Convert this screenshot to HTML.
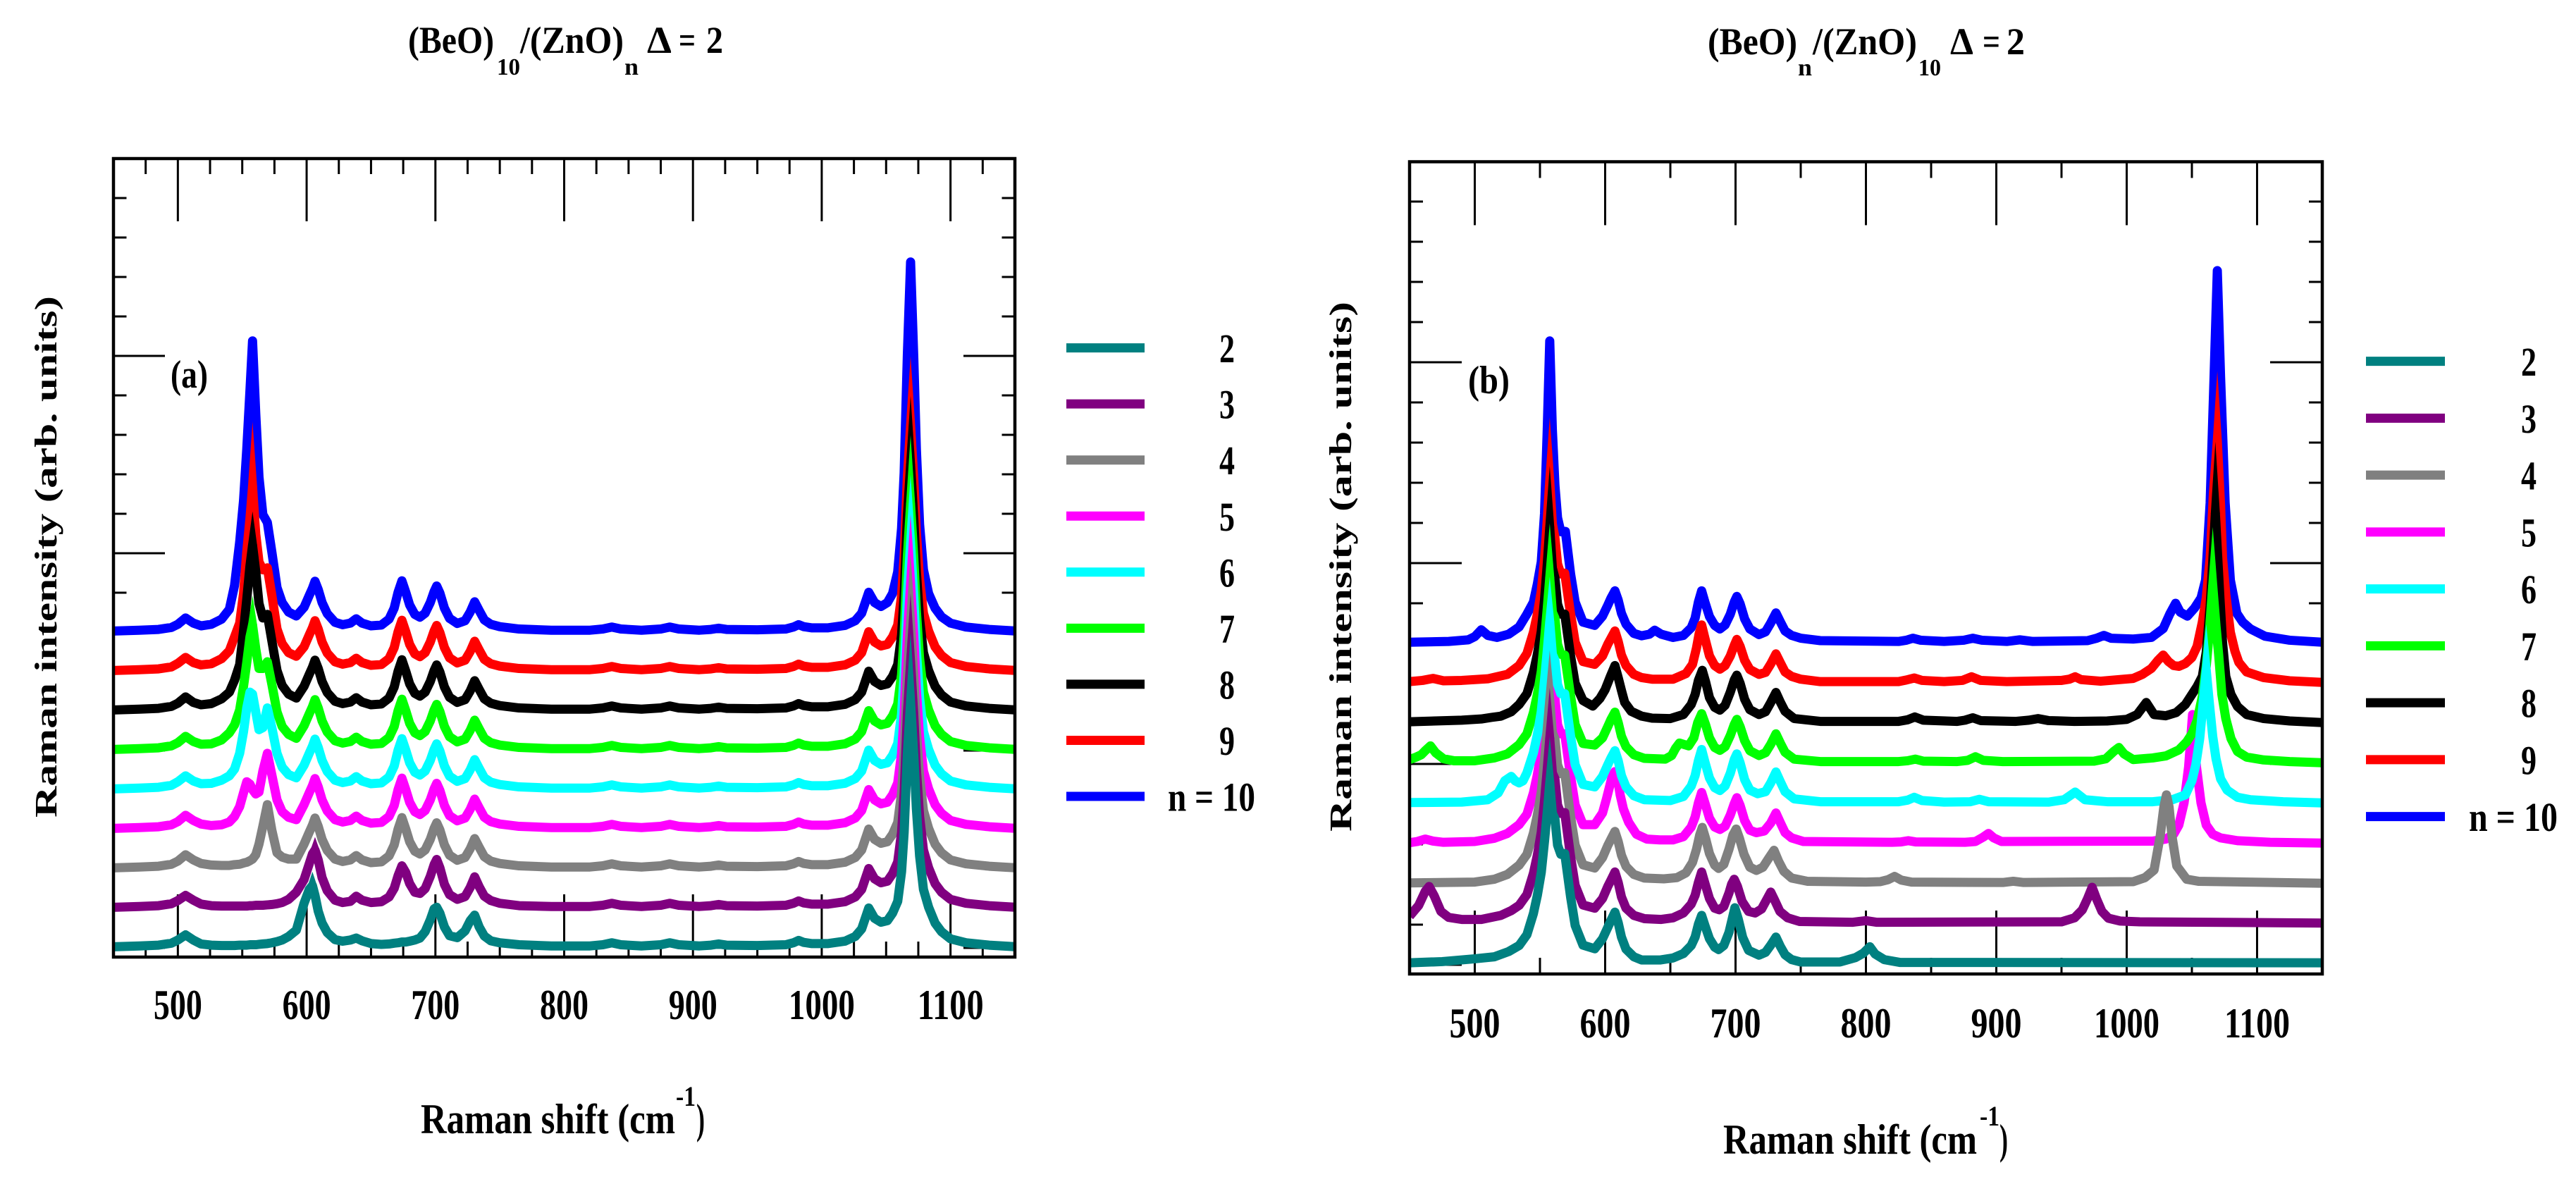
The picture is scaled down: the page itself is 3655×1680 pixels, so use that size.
<!DOCTYPE html>
<html>
<head>
<meta charset="utf-8">
<title>Raman spectra of (BeO)/(ZnO) superlattices</title>
<style>
html,body{margin:0;padding:0;background:#fff;}
svg{display:block;}
text{font-family:"Liberation Serif","DejaVu Serif",serif;font-weight:bold;fill:#000;}
</style>
</head>
<body>
<svg id="chart" xmlns="http://www.w3.org/2000/svg" width="3655" height="1680" viewBox="0 0 3655 1680">
<rect x="0" y="0" width="3655" height="1680" fill="#fff"/>
<defs>
<clipPath id="clipA"><rect x="161" y="225" width="1279" height="1133"/></clipPath>
<clipPath id="clipB"><rect x="2000" y="229.5" width="1295" height="1152.5"/></clipPath>
</defs>
<g id="panelA"></g>
<g id="panelB"></g>

<g>
<text x="579" y="75" font-size="54" textLength="122" lengthAdjust="spacingAndGlyphs">(BeO)</text>
<text x="705" y="106" font-size="34" textLength="33" lengthAdjust="spacingAndGlyphs">10</text>
<text x="738" y="75" font-size="54" textLength="147" lengthAdjust="spacingAndGlyphs">/(ZnO)</text>
<text x="886" y="106" font-size="34" textLength="20" lengthAdjust="spacingAndGlyphs">n</text>
<text x="918" y="75" font-size="54" textLength="35" lengthAdjust="spacingAndGlyphs">Δ</text>
<text x="963" y="75" font-size="54" textLength="24" lengthAdjust="spacingAndGlyphs">=</text>
<text x="1002" y="75" font-size="54" textLength="24" lengthAdjust="spacingAndGlyphs">2</text>
</g>
<g>
<text x="2423" y="77" font-size="54" textLength="127" lengthAdjust="spacingAndGlyphs">(BeO)</text>
<text x="2551" y="107" font-size="34" textLength="20" lengthAdjust="spacingAndGlyphs">n</text>
<text x="2572" y="77" font-size="54" textLength="148" lengthAdjust="spacingAndGlyphs">/(ZnO)</text>
<text x="2722" y="107" font-size="34" textLength="32" lengthAdjust="spacingAndGlyphs">10</text>
<text x="2767" y="77" font-size="54" textLength="33" lengthAdjust="spacingAndGlyphs">Δ</text>
<text x="2813" y="77" font-size="54" textLength="25" lengthAdjust="spacingAndGlyphs">=</text>
<text x="2847" y="77" font-size="54" textLength="26" lengthAdjust="spacingAndGlyphs">2</text>
</g>

<text x="242" y="550" font-size="56" textLength="53" lengthAdjust="spacingAndGlyphs">(a)</text>
<text x="2083" y="558" font-size="56" textLength="59" lengthAdjust="spacingAndGlyphs">(b)</text>

<text transform="translate(80 790) rotate(-90)" text-anchor="middle" font-size="44" textLength="740" lengthAdjust="spacingAndGlyphs">Raman intensity (arb. units)</text>
<text transform="translate(1917 804) rotate(-90)" text-anchor="middle" font-size="44" textLength="752" lengthAdjust="spacingAndGlyphs">Raman intensity (arb. units)</text>

<g>
<text x="597" y="1608" font-size="60" textLength="361" lengthAdjust="spacingAndGlyphs">Raman shift (cm</text>
<text x="959" y="1569" font-size="40" textLength="28" lengthAdjust="spacingAndGlyphs">-1</text>
<text x="988" y="1608" font-size="60" textLength="12" lengthAdjust="spacingAndGlyphs">)</text>
</g>
<g>
<text x="2445" y="1637" font-size="60" textLength="360" lengthAdjust="spacingAndGlyphs">Raman shift (cm</text>
<text x="2809" y="1597" font-size="40" textLength="28" lengthAdjust="spacingAndGlyphs">-1</text>
<text x="2837" y="1637" font-size="60" textLength="12" lengthAdjust="spacingAndGlyphs">)</text>
</g>
</svg>

<script>
// ---------- shared labels ----------
const legendLabels = ['2','3','4','5','6','7','8','9','n = 10'];
const seriesColors = ['#008080','#800080','#808080','#ff00ff','#00ffff','#00ff00','#000000','#ff0000','#0000ff'];
const xTickValues = [500,600,700,800,900,1000,1100];
const xTickLabels = ['500','600','700','800','900','1000','1100'];
const seriesOffsets = [0,1,2,3,4,5,6,7,8];
const baselineLift = 0.03;

// ---------- panel (a): (BeO)10/(ZnO)n — shared Raman-shift grid, net intensity per n ----------
const shiftAHead = [450,470,485,495,500,506,512,518,526,534,540,544,548,551,553.5,556,558,560.5,563,566,569.5,573,577,581,586,592];
const shiftABody = [598,602,604.5,606.5,609,612,616,622,628,634,638.5,643,650,658,664,668,671,674,677,680,684,688,692,696,699,701,703.5,707,711,717,723,727,730.5,734,738,743,750,765,790,820,830,837,844,860,875,882,889,905,914,920,926,950,972,978,982,986,992,1005,1018,1026,1031,1036.5,1041,1046];
const shiftATail = [1051,1055,1059,1062,1064,1066.5,1069,1071.5,1073.5,1076,1079,1083,1088,1093,1100,1112,1130,1150];

const a10Head = [0,.02,.04,.09,.17,.33,.2,.13,.17,.3,.55,1.15,2.25,3.3,4.6,6.1,7.35,5.5,3.9,2.95,2.75,2.0,1.1,.72,.48,.38];
const a9Head = [0,.02,.04,.09,.18,.33,.2,.14,.17,.3,.5,.85,1.2,1.95,3.0,3.85,4.65,3.45,2.75,2.55,2.6,1.9,1.05,.68,.45,.36];
const a8Head = [0,.02,.04,.09,.17,.33,.19,.13,.16,.28,.45,.75,1.15,2.0,2.8,3.65,4.17,3.5,2.7,2.33,2.42,1.75,1.0,.62,.4,.3];
const a7Head = [0,.02,.04,.09,.17,.33,.2,.13,.14,.24,.42,.62,1.0,1.6,2.2,2.85,3.15,2.55,2.05,2.05,2.22,1.65,.95,.58,.38,.28];
const a6Head = [0,.02,.04,.09,.18,.33,.2,.13,.14,.22,.33,.5,.9,1.45,2.05,2.45,2.4,1.95,1.5,1.55,2.05,1.55,.9,.55,.36,.28];
const a5Head = [0,.02,.04,.09,.17,.33,.2,.11,.07,.09,.16,.3,.55,.9,1.18,1.12,.98,.87,.92,1.45,1.9,1.35,.72,.42,.28,.22];
const a4Head = [0,.02,.04,.09,.17,.33,.2,.11,.07,.06,.06,.08,.09,.12,.14,.18,.22,.33,.6,1.05,1.6,.95,.38,.27,.22,.22];
const a3Head = [0,.02,.04,.09,.17,.3,.18,.08,.04,.03,.03,.03,.03,.03,.03,.04,.04,.05,.05,.05,.06,.07,.09,.12,.2,.38];
const a2Head = [0,.02,.04,.09,.17,.3,.17,.07,.04,.03,.03,.03,.04,.04,.04,.05,.05,.05,.06,.07,.08,.1,.13,.17,.26,.42];

const aBodyCommon = [.6,.9,1.08,1.26,1.05,.72,.44,.22,.16,.2,.31,.2,.13,.15,.3,.58,.98,1.27,.98,.66,.42,.35,.45,.72,1.0,1.14,.96,.58,.32,.19,.26,.48,.74,.52,.28,.17,.11,.05,.02,.02,.05,.1,.05,.02,.05,.1,.05,.02,.04,.07,.04,.03,.05,.1,.16,.11,.08,.08,.14,.26,.45,.98,.72,.62];
const a3Body = [.7,1.1,1.35,1.45,1.2,.75,.42,.18,.12,.15,.28,.18,.12,.14,.26,.48,.8,1.05,.88,.6,.38,.35,.47,.78,1.08,1.21,1.0,.58,.32,.2,.27,.5,.77,.52,.28,.17,.1,.04,.02,.02,.05,.1,.05,.02,.05,.1,.05,.02,.04,.07,.04,.03,.05,.1,.16,.11,.08,.08,.14,.26,.45,.98,.72,.62];
const a2Body = [1.1,1.45,1.55,1.3,.9,.6,.36,.18,.14,.17,.22,.15,.08,.06,.07,.09,.1,.12,.12,.14,.17,.22,.38,.68,.96,1.0,.85,.5,.28,.23,.4,.66,.8,.5,.27,.15,.1,.05,.02,.02,.05,.1,.05,.02,.05,.1,.05,.02,.04,.07,.04,.03,.05,.1,.16,.11,.08,.08,.14,.26,.45,.98,.72,.62];
const aTailNarrow = [.66,.85,1.15,1.9,2.9,4.9,6.2,4.85,3.5,2.3,1.45,1.0,.6,.38,.2,.1,.04,0];
const aTailBlue = [.72,.95,1.5,2.6,4.0,7.0,9.35,6.9,4.6,2.7,1.55,.95,.58,.36,.2,.1,.04,0];

// needle tips above rounded apexes: series index order n = 2 ... 10, null means no needle
const aMainTips = [null,null,null,null,null,3.9,5.03,6.3,null];
const aRightTips = [7.96,7.96,7.96,7.96,7.96,7.96,7.96,7.96,null];
const aLowPeakShift = [604.5,606.5,null,null,null,null,null,null,null];
const aLowPeakTips = [1.9,1.78,null,null,null,null,null,null,null];

// ---------- panel (b): (BeO)n/(ZnO)10 — [Raman shift, net intensity] read per n ----------
const b2Points = [[450,.02],[475,.05],[500,.12],[515,.17],[526,.3],[534,.45],[540,.72],[545,1.25],[548,1.7],[551,2.27],[553.5,3.05],[555.5,3.75],[557.5,4.5],[559.5,3.75],[561.5,3.6],[563.5,2.95],[566,2.72],[569,2.74],[573.5,1.66],[577,.95],[583,.46],[592,.37],[598,.62],[602,.9],[604.5,1.08],[607.5,1.28],[610,1.02],[612.5,.66],[616,.36],[622,.17],[628,.09],[642,.09],[652,.14],[660,.25],[666,.45],[669,.66],[671.5,.98],[674,1.2],[676.5,.95],[680,.62],[684,.41],[687,.35],[691,.45],[695,.78],[697.5,1.12],[699.5,1.39],[702,1.12],[705.5,.65],[710,.33],[718,.21],[723,.28],[727,.46],[731,.66],[734.5,.42],[738,.22],[743,.1],[750,.04],[780,.04],[792,.15],[798,.26],[803,.42],[807,.24],[814,.1],[826,.03],[1150,.02]];
const b3Points = [[450,.18],[457,.45],[462,.8],[465,.92],[469,.68],[474,.3],[480,.15],[490,.1],[505,.1],[520,.2],[528,.32],[534,.45],[540,.72],[545,1.25],[548,1.7],[551,2.27],[553.5,3.05],[555.5,3.8],[557.5,4.6],[559.5,3.75],[561.5,3.6],[563.5,2.95],[566,2.74],[569,2.76],[573.5,1.66],[577,.95],[583,.46],[592,.38],[598,.62],[602,.92],[604.5,1.08],[607.5,1.28],[610,1.02],[612.5,.66],[616,.38],[622,.2],[630,.12],[643,.1],[652,.14],[660,.26],[666,.48],[669,.7],[671.5,1.02],[674,1.28],[676.5,1.0],[680,.62],[684,.38],[687.5,.34],[691,.42],[695,.76],[697,.98],[699,1.1],[701.5,.92],[705,.55],[710,.3],[715,.26],[720,.36],[724,.6],[727,.78],[730,.58],[734,.3],[740,.14],[749,.05],[790,.03],[800,.07],[808,.03],[950,.04],[960,.14],[966,.34],[970,.62],[973.5,.9],[977,.6],[981,.3],[986,.13],[995,.06],[1010,.04],[1150,.01]];
const b4Points = [[450,.01],[500,.03],[515,.1],[525,.22],[534,.45],[540,.72],[545,1.25],[548,1.7],[551,2.27],[553.5,3.05],[555.5,3.8],[557.5,4.55],[559.5,3.75],[561.5,3.6],[563.5,2.95],[566,2.73],[569,2.75],[573.5,1.66],[577,.95],[583,.46],[592,.38],[598,.64],[602,.94],[604.5,1.1],[607.5,1.29],[610,1.04],[612.5,.7],[616,.42],[622,.22],[630,.13],[645,.11],[655,.14],[662,.26],[667,.52],[670,.84],[672.5,1.2],[674.5,1.39],[677,1.12],[680,.74],[684,.45],[687,.37],[691,.47],[695,.85],[698,1.2],[700.5,1.35],[703,1.12],[706.5,.72],[711,.4],[716,.32],[721,.4],[725,.6],[729.5,.82],[733,.55],[737,.3],[743,.13],[755,.05],[800,.03],[811,.04],[817,.09],[822,.17],[827,.08],[835,.03],[905,.02],[913,.05],[921,.02],[1005,.04],[1014,.14],[1021,.33],[1025.7,1.18],[1028.5,1.9],[1030.5,2.2],[1032.5,1.9],[1034.7,1.18],[1038.4,.43],[1046,.1],[1055,.05],[1150,0]];
const b5Points = [[450,.01],[456,.04],[462,.1],[468,.05],[476,.02],[500,.04],[515,.12],[525,.24],[534,.46],[540,.72],[545,1.25],[548,1.7],[551,2.27],[553.5,3.05],[555.5,3.85],[557.5,4.7],[559.5,3.8],[561.5,3.6],[563.5,2.95],[566,2.72],[569,2.72],[573.5,1.66],[577,.95],[583,.46],[592,.46],[598,.75],[601,1.1],[603.5,1.42],[605.5,1.68],[607.5,1.78],[609.5,1.6],[611.5,1.2],[614,.85],[618,.52],[624,.22],[632,.1],[642,.08],[652,.08],[660,.16],[666,.4],[669,.65],[671.5,1.0],[674,1.26],[676.5,1.0],[680,.62],[684,.4],[688,.34],[692,.42],[696,.7],[699,.98],[701,1.13],[703.5,.94],[707,.56],[711,.32],[716,.26],[722,.3],[727,.5],[731,.75],[734.5,.5],[738,.26],[743,.13],[752,.04],[820,.02],[827,.03],[832.5,.06],[838,.03],[876,.02],[884,.04],[890,.15],[894,.24],[898,.13],[904,.04],[1020,.05],[1030,.1],[1036,.22],[1040,.45],[1044,1.0],[1047.5,1.9],[1050.5,3.2],[1053.5,1.9],[1057,1.0],[1061,.45],[1066,.22],[1072,.13],[1085,.06],[1110,.02],[1150,0]];
const b6Points = [[450,.01],[490,.02],[510,.08],[518,.25],[523,.55],[528,.66],[531,.55],[534,.5],[537,.55],[540,.75],[545,1.25],[548,1.7],[551,2.27],[553.5,3.05],[555.5,3.75],[557.5,4.5],[559.5,3.7],[561.5,3.55],[563.5,2.95],[566,2.72],[569,2.72],[573.5,1.66],[577,.95],[583,.46],[592,.4],[598,.66],[602,.95],[604.5,1.12],[607.5,1.3],[610,1.05],[612.5,.68],[616,.4],[622,.18],[630,.08],[650,.06],[660,.16],[666,.42],[669,.68],[671.5,1.05],[674,1.33],[676.5,1.02],[680,.62],[684,.38],[688,.31],[692,.42],[696,.74],[699,1.08],[701,1.22],[703.5,1.0],[707,.58],[711,.32],[717,.23],[723,.28],[727,.5],[731,.77],[734.5,.52],[738,.28],[745,.1],[765,.03],[825,.03],[832,.07],[837,.14],[843,.06],[860,.02],[880,.03],[887,.09],[894,.03],[940,.02],[952,.08],[960.5,.27],[968,.08],[985,.03],[1020,.03],[1035,.08],[1045,.2],[1050,.55],[1053,.95],[1056,1.6],[1058.5,2.45],[1061,3.3],[1063.5,2.45],[1066,1.65],[1068.5,1.1],[1072,.6],[1077,.32],[1085,.14],[1095,.08],[1120,.03],[1150,0]];
const b7Points = [[450,.08],[455,.14],[459,.2],[462,.3],[466,.42],[470,.25],[476,.1],[484,.05],[500,.05],[515,.12],[525,.22],[534,.45],[540,.72],[545,1.25],[548,1.7],[551,2.27],[553.5,3.05],[555.5,3.8],[557.5,4.6],[559.5,3.75],[561.5,3.6],[563.5,2.95],[566,2.7],[569,2.68],[573.5,1.66],[577,.95],[583,.48],[592,.44],[598,.62],[602,.9],[604.5,1.08],[607.5,1.26],[610,1.0],[612.5,.66],[616,.4],[622,.2],[630,.11],[646,.09],[651,.18],[654,.36],[657,.49],[660,.46],[664,.42],[668,.62],[671,1.0],[674,1.22],[677,.95],[680,.62],[684,.38],[688,.31],[692,.4],[696,.68],[699,.95],[701,1.08],[703.5,.9],[707,.55],[711,.3],[718,.18],[723,.25],[727,.46],[731,.72],[734.5,.48],[738,.26],[745,.09],[765,.03],[825,.03],[832,.05],[838,.09],[844,.04],[870,.03],[878,.06],[884,.15],[890,.06],[905,.03],[975,.04],[984,.1],[990,.28],[994,.38],[998,.22],[1005,.08],[1020,.12],[1030,.17],[1040,.32],[1046,.52],[1050,.72],[1054,1.05],[1058,1.65],[1061,2.4],[1063.5,3.3],[1066,4.4],[1068.5,3.4],[1070.5,2.7],[1073,1.7],[1076,1.1],[1080,.6],[1085,.28],[1092,.14],[1105,.07],[1125,.03],[1150,0]];
const b8Points = [[450,.02],[490,.06],[505,.09],[513,.13],[520,.16],[528,.27],[534,.45],[540,.72],[545,1.25],[548,1.7],[551,2.27],[553.5,3.05],[555.5,3.9],[557.5,4.85],[559.5,3.85],[561.5,3.6],[563.5,2.95],[566,2.7],[569,2.7],[573.5,1.66],[577,.98],[583,.55],[590.5,.41],[596,.6],[600,.82],[604,1.15],[607.5,1.42],[610,1.12],[612.5,.8],[615,.5],[620,.28],[628,.16],[636,.11],[650,.1],[660,.2],[666,.45],[669,.7],[671.5,1.05],[674.5,1.3],[677,1.02],[680,.62],[684,.38],[688,.31],[692,.43],[696,.76],[699,1.06],[701,1.18],[703.5,.98],[707,.58],[711,.32],[718,.2],[723,.27],[727,.5],[731,.75],[734.5,.5],[738,.28],[745,.1],[765,.03],[825,.03],[832,.07],[837.5,.14],[844,.06],[870,.03],[876,.06],[882,.12],[888,.05],[915,.03],[925,.06],[932,.1],[940,.05],[960,.03],[985,.04],[1000,.08],[1008,.2],[1015,.5],[1021,.2],[1030,.17],[1038,.25],[1045,.45],[1050,.7],[1054,.9],[1058,1.15],[1061,1.75],[1064,2.9],[1066,4.0],[1068,5.2],[1070,4.0],[1071.5,3.1],[1073.5,2.0],[1076,1.15],[1080,.7],[1085,.4],[1092,.2],[1105,.1],[1125,.04],[1150,0]];
const b9Points = [[450,.02],[460,.05],[468,.1],[476,.04],[490,.05],[510,.09],[525,.2],[534,.42],[540,.72],[545,1.25],[548,1.7],[551,2.27],[553.5,3.05],[555.5,4.0],[557.5,5.0],[559.5,3.95],[561.5,3.6],[563.5,2.95],[566,2.7],[569,2.72],[573.5,1.7],[577,1.0],[583,.52],[592,.45],[598,.66],[602,.95],[604.5,1.1],[607.5,1.28],[610,1.02],[612.5,.68],[616,.42],[622,.2],[628,.12],[636,.08],[652,.08],[662,.22],[667,.45],[670,.85],[672,1.2],[674,1.43],[676.5,1.1],[680,.66],[684,.42],[688,.33],[692,.42],[696,.66],[699,.92],[701,1.07],[703.5,.9],[707,.55],[711,.32],[718,.2],[723,.25],[727,.46],[731,.71],[734.5,.48],[738,.26],[743,.15],[750,.08],[765,.02],[825,.02],[831,.06],[837,.11],[843,.05],[860,.02],[874,.05],[881,.14],[888,.05],[908,.02],[950,.05],[956,.08],[960.5,.14],[965,.07],[980,.03],[1005,.1],[1012,.2],[1019,.35],[1024,.55],[1028,.68],[1032,.52],[1036,.42],[1040,.4],[1045,.47],[1050,.62],[1054,.9],[1058,1.5],[1061,2.1],[1064,3.1],[1066.5,4.7],[1069.5,6.0],[1072,4.4],[1073.5,3.1],[1076,2.2],[1079.5,1.25],[1083,.78],[1086,.5],[1092,.26],[1105,.12],[1125,.04],[1150,0]];
const b10Points = [[450,0],[480,.02],[495,.06],[500,.14],[505,.31],[510,.17],[517,.12],[526,.2],[534,.38],[540,.7],[545,1.0],[548,1.45],[551,2.0],[553.5,3.2],[555.5,5.2],[557.5,7.5],[559.5,5.3],[561.5,3.9],[563.5,3.1],[566,2.75],[569.5,2.76],[573.5,1.7],[577,1.0],[583,.5],[592,.42],[598,.65],[602,.92],[604.5,1.1],[607.5,1.28],[610,1.05],[612.5,.72],[616,.45],[622,.22],[628,.16],[634,.2],[638,.3],[643,.2],[652,.12],[660,.17],[666,.36],[669,.6],[671.5,1.0],[674,1.28],[676.5,1.0],[680,.64],[684,.42],[688,.33],[692,.43],[696,.7],[699,1.0],[701,1.14],[703.5,.96],[707,.58],[711,.33],[718,.19],[723,.26],[727,.48],[731,.73],[734.5,.5],[738,.28],[743,.17],[750,.1],[765,.04],[825,.02],[831,.05],[836,.1],[842,.05],[860,.02],[875,.05],[882,.1],[889,.05],[908,.02],[918,.06],[928,.02],[970,.04],[977,.1],[982.5,.17],[988,.1],[1005,.08],[1019,.12],[1028,.34],[1033,.7],[1037.5,.97],[1041,.75],[1046.5,.65],[1052,.85],[1057,1.1],[1060.5,1.55],[1064,3.47],[1067,6.6],[1069.5,9.25],[1072,6.6],[1075.5,3.47],[1079.5,1.55],[1084.5,.72],[1089,.5],[1095,.33],[1106,.15],[1125,.05],[1150,0]];

// needle tips above rounded apexes in panel (b)
const bMainTips = [5.64,5.87,5.8,6.12,5.63,5.96,6.39,6.6,null];
const bRightShift = [null,null,null,null,1061,1066,1068,1069.5,null];
const bRightTips = [null,null,null,null,4.45,5.87,6.99,7.75,null];

// ---------- axis functions ----------
function xA(v){ return 161 + (v - 450) * 1279 / 700; }
function yA(v){ return 1345 - 56 * v; }
function xB(v){ return 2000 + (v - 450) * 1295 / 700; }
function yB(v){ return 1369 - 57 * v; }

const NS = 'http://www.w3.org/2000/svg';
const STROKE = 13;

function line(parent, x1, y1, x2, y2, w, name){
  const el = document.createElementNS(NS, 'line');
  el.setAttribute('x1', x1);
  el.setAttribute('y1', y1);
  el.setAttribute('x2', x2);
  el.setAttribute('y2', y2);
  el.setAttribute('stroke', '#000');
  el.setAttribute('stroke-width', w);
  
  
  parent.appendChild(el);
  return el;
}

function drawTicks(group, X, Y, left, right, top, bottom, xStep, xMajorLen, xMinorLen, yMajorLen, yMinorLen){
  for (let v = 450; v <= 1150; v += xStep) {
    if (v === 450 || v === 1150) continue;
    const major = v % 100 === 0;
    const len = major ? xMajorLen : xMinorLen;
    line(group, X(v), top, X(v), top + len, 3, major ? 'x-major-tick-top' : 'x-minor-tick-top');
    line(group, X(v), bottom, X(v), bottom - len, 3, major ? 'x-major-tick-bottom' : 'x-minor-tick-bottom');
  }
  for (let v = 0; v < 20; v += 1) {
    const major = v % 5 === 0;
    const len = major ? yMajorLen : yMinorLen;
    line(group, left, Y(v), left + len, Y(v), 3, major ? 'y-major-tick-left' : 'y-minor-tick-left');
    line(group, right, Y(v), right - len, Y(v), 3, major ? 'y-major-tick-right' : 'y-minor-tick-right');
  }
}

function drawSeries(group, pointsText, color, clipId, name){
  const el = document.createElementNS(NS, 'polyline');
  el.setAttribute('points', pointsText);
  el.setAttribute('fill', 'none');
  el.setAttribute('stroke', color);
  el.setAttribute('stroke-width', STROKE);
  el.setAttribute('stroke-linejoin', 'round');
  el.setAttribute('clip-path', 'url(#' + clipId + ')');
  
  
  group.appendChild(el);
}

function drawNeedle(group, X, Y, shift, apex, tip, color, name){
  const el = document.createElementNS(NS, 'polygon');
  const half = STROKE / 2;
  const pts = (X(shift) - half).toFixed(2) + ',' + Y(apex).toFixed(2) + ' ' +
              (X(shift) + half).toFixed(2) + ',' + Y(apex).toFixed(2) + ' ' +
              X(shift).toFixed(2) + ',' + Y(tip).toFixed(2);
  el.setAttribute('points', pts);
  el.setAttribute('fill', color);
  
  
  group.appendChild(el);
}

function drawFrame(group, left, top, right, bottom, name){
  const el = document.createElementNS(NS, 'rect');
  el.setAttribute('x', left);
  el.setAttribute('y', top);
  el.setAttribute('width', right - left);
  el.setAttribute('height', bottom - top);
  el.setAttribute('fill', 'none');
  el.setAttribute('stroke', '#000');
  el.setAttribute('stroke-width', 4.5);
  
  
  group.appendChild(el);
}

function drawXLabels(group, X, baseline, len3, len4, name){
  xTickValues.forEach(function(v, i){
    const t = document.createElementNS(NS, 'text');
    t.textContent = xTickLabels[i];
    t.setAttribute('x', X(v));
    t.setAttribute('y', baseline);
    t.setAttribute('text-anchor', 'middle');
    t.setAttribute('font-size', 60);
    t.setAttribute('textLength', xTickLabels[i].length === 4 ? len4 : len3);
    t.setAttribute('lengthAdjust', 'spacingAndGlyphs');
    
    
    group.appendChild(t);
  });
}

function drawLegend(group, lineX1, lineX2, yStart, yStep, digitX, digitLen, longX, longLen, name){
  legendLabels.forEach(function(label, i){
    const y = yStart + i * yStep;
    line(group, lineX1, y, lineX2, y, 13, name + '-swatch').setAttribute('stroke', seriesColors[i]);
    const t = document.createElementNS(NS, 'text');
    t.textContent = label;
    t.setAttribute('x', label.length > 1 ? longX : digitX);
    t.setAttribute('y', y + 20.5);
    t.setAttribute('font-size', 58);
    t.setAttribute('textLength', label.length > 1 ? longLen : digitLen);
    t.setAttribute('lengthAdjust', 'spacingAndGlyphs');
    
    
    group.appendChild(t);
  });
}

// ---------- panel (a) ----------
const panelA = document.getElementById('panelA');
drawTicks(panelA, xA, yA, 161, 1440, 225, 1358, 25, 89, 22, 73, 18.5);
const shiftA = shiftAHead.concat(shiftABody, shiftATail);
const seriesA = [
  a2Head.concat(a2Body, aTailNarrow),
  a3Head.concat(a3Body, aTailNarrow),
  a4Head.concat(aBodyCommon, aTailNarrow),
  a5Head.concat(aBodyCommon, aTailNarrow),
  a6Head.concat(aBodyCommon, aTailNarrow),
  a7Head.concat(aBodyCommon, aTailNarrow),
  a8Head.concat(aBodyCommon, aTailNarrow),
  a9Head.concat(aBodyCommon, aTailNarrow),
  a10Head.concat(aBodyCommon, aTailBlue)
];
function needleA(k, shift, tip){
  if (shift === null || tip === null) return;
  const base = seriesOffsets[k] + baselineLift;
  drawNeedle(panelA, xA, yA, shift, base + seriesA[k][shiftA.indexOf(shift)], base + tip, seriesColors[k], 'panel-a-peak-tip');
}
for (let k = 8; k >= 0; k--) {
  const pts = shiftA.map(function(x, i){
    return xA(x).toFixed(2) + ',' + yA(seriesOffsets[k] + baselineLift + seriesA[k][i]).toFixed(2);
  }).join(' ');
  drawSeries(panelA, pts, seriesColors[k], 'clipA', 'panel-a-spectrum');
  needleA(k, 558, aMainTips[k]);
  needleA(k, 1069, aRightTips[k]);
  needleA(k, aLowPeakShift[k], aLowPeakTips[k]);
}
drawFrame(panelA, 161, 225, 1440, 1358, 'panel-a-frame');
drawXLabels(panelA, xA, 1446, 69, 94, 'panel-a-x-tick-label');
drawLegend(panelA, 1513, 1624, 493.6, 79.55, 1730, 22, 1657, 124, 'panel-a-legend');

// ---------- panel (b) ----------
const panelB = document.getElementById('panelB');
drawTicks(panelB, xB, yB, 2000, 3295, 229.5, 1382, 50, 90, 23, 74, 19);
const seriesB = [b2Points,b3Points,b4Points,b5Points,b6Points,b7Points,b8Points,b9Points,b10Points];
const drawOrderB = [8,7,6,3,5,4,2,1,0];
function needleB(k, shift, tip){
  if (shift === null || tip === null) return;
  const base = seriesOffsets[k] + baselineLift;
  const hit = seriesB[k].find(function(p){ return p[0] === shift; });
  drawNeedle(panelB, xB, yB, shift, base + hit[1], base + tip, seriesColors[k], 'panel-b-peak-tip');
}
drawOrderB.forEach(function(k){
  const pts = seriesB[k].map(function(p){
    return xB(p[0]).toFixed(2) + ',' + yB(seriesOffsets[k] + baselineLift + p[1]).toFixed(2);
  }).join(' ');
  drawSeries(panelB, pts, seriesColors[k], 'clipB', 'panel-b-spectrum');
  needleB(k, 557.5, bMainTips[k]);
  needleB(k, bRightShift[k], bRightTips[k]);
});
drawFrame(panelB, 2000, 229.5, 3295, 1382, 'panel-b-frame');
drawXLabels(panelB, xB, 1472, 72, 93, 'panel-b-x-tick-label');
drawLegend(panelB, 3357, 3469, 512.6, 80.75, 3577, 22, 3503, 126, 'panel-b-legend');
</script>
</body>
</html>
